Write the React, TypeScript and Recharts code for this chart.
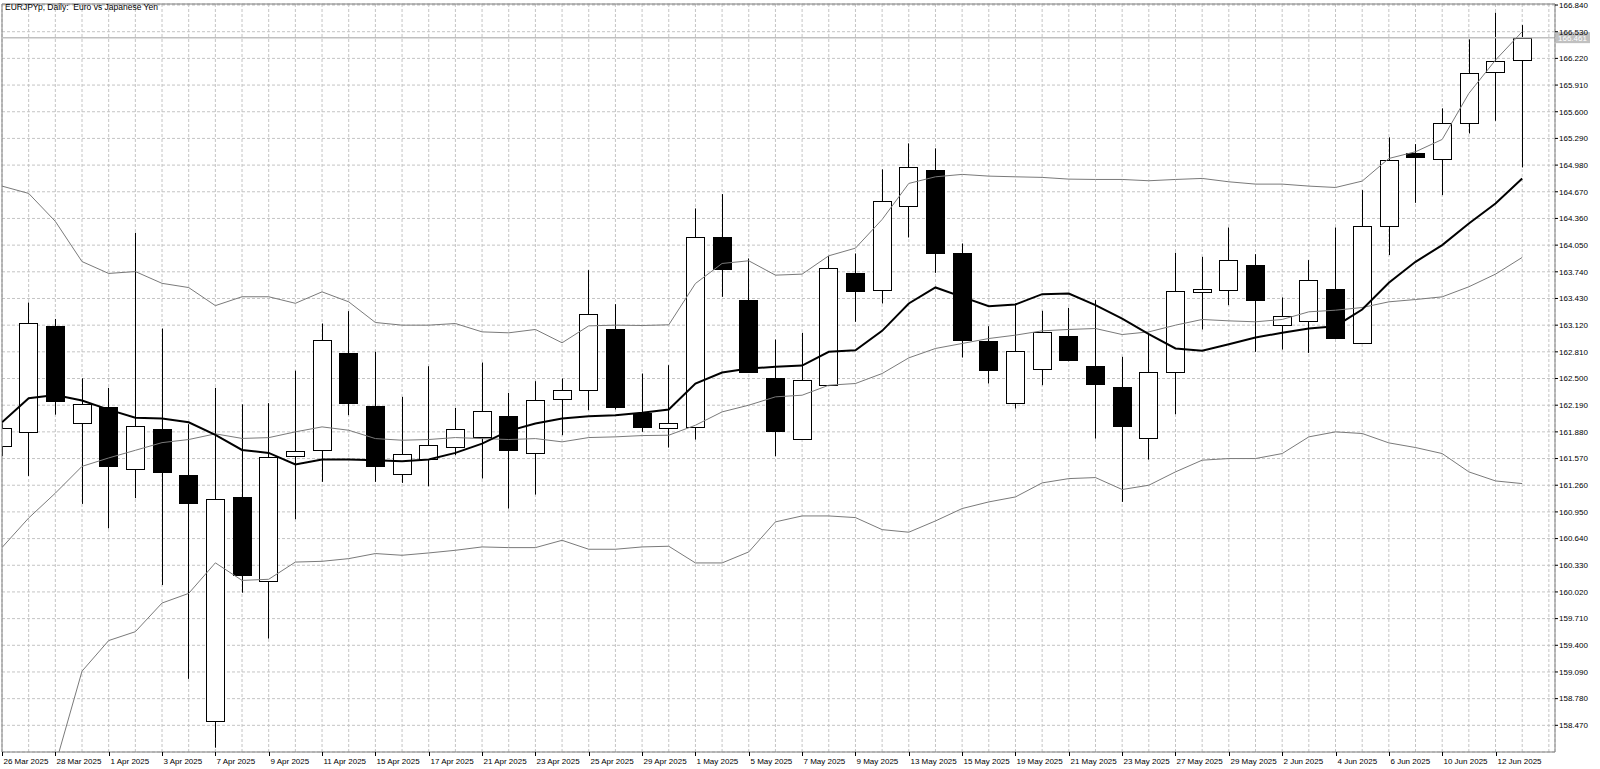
import React from "react";
import {
  ComposedChart,
  Bar,
  Line,
  XAxis,
  YAxis,
  CartesianGrid,
  ReferenceLine,
} from "recharts";

const FONT = "'Liberation Sans', Arial, sans-serif";

// one label every second trading day, starting with the first candle
const dateLabels = [
  "26 Mar 2025", "28 Mar 2025", "1 Apr 2025", "3 Apr 2025", "7 Apr 2025",
  "9 Apr 2025", "11 Apr 2025", "15 Apr 2025", "17 Apr 2025", "21 Apr 2025",
  "23 Apr 2025", "25 Apr 2025", "29 Apr 2025", "1 May 2025", "5 May 2025",
  "7 May 2025", "9 May 2025", "13 May 2025", "15 May 2025", "19 May 2025",
  "21 May 2025", "23 May 2025", "27 May 2025", "29 May 2025", "2 Jun 2025",
  "4 Jun 2025", "6 Jun 2025", "10 Jun 2025", "12 Jun 2025",
];

const opens = [
  161.711, 161.88, 163.112, 161.978, 162.169, 161.444, 161.915, 161.381, 158.521, 161.123,
  160.145, 161.604, 161.667, 162.791, 162.178, 161.388, 161.562, 161.706, 161.822, 162.062,
  161.64, 162.267, 162.372, 163.07, 162.101, 161.93, 161.938, 164.139, 163.411, 162.508,
  161.802, 162.43, 163.721, 163.527, 164.503, 164.922, 163.961, 162.938, 162.217, 162.605,
  162.992, 162.643, 162.403, 161.814, 162.57, 163.511, 163.527, 163.814, 163.12, 163.166,
  163.546, 162.918, 164.271, 165.116, 165.046, 165.472, 166.065, 166.201,
];
const highs = [
  161.98, 163.383, 163.192, 162.502, 162.391, 164.193, 163.081, 161.969, 162.391, 162.2,
  162.213, 162.591, 163.139, 163.283, 162.81, 162.287, 162.643, 162.159, 162.686, 162.333,
  162.469, 162.5, 163.759, 163.364, 162.558, 162.655, 164.476, 164.643, 163.895, 162.953,
  163.031, 163.922, 163.953, 164.93, 165.232, 165.174, 164.069, 163.108, 163.372, 163.287,
  163.321, 163.411, 162.752, 163.031, 163.961, 163.914, 164.255, 163.945, 163.442, 163.876,
  164.255, 164.689, 165.302, 165.224, 165.639, 166.441, 166.751, 166.607,
];
const lows = [
  161.6, 161.368, 162.08, 161.043, 160.759, 161.11, 160.1, 159.01, 158.21, 160.011,
  159.478, 160.865, 161.299, 162.074, 161.299, 161.287, 161.248, 161.609, 161.338, 160.989,
  161.151, 161.841, 162.132, 162.14, 161.88, 161.698, 161.791, 163.449, 162.566, 161.597,
  161.79, 162.42, 163.159, 163.372, 164.139, 163.728, 162.744, 162.442, 162.151, 162.422,
  162.7, 161.802, 161.066, 161.558, 162.085, 163.07, 163.352, 162.81, 162.837, 162.798,
  162.96, 162.91, 163.934, 164.542, 164.631, 165.348, 165.495, 164.953,
];
const closes = [
  161.924, 163.147, 162.236, 162.209, 161.479, 161.946, 161.412, 161.057, 161.101, 160.212,
  161.59, 161.657, 162.942, 162.217, 161.485, 161.628, 161.733, 161.911, 162.12, 161.674,
  162.256, 162.372, 163.244, 162.167, 161.938, 161.985, 164.139, 163.775, 162.574, 161.888,
  162.481, 163.779, 163.515, 164.562, 164.961, 163.961, 162.946, 162.597, 162.822, 163.035,
  162.713, 162.442, 161.946, 162.57, 163.515, 163.535, 163.883, 163.418, 163.225, 163.643,
  162.973, 164.271, 165.038, 165.069, 165.464, 166.046, 166.189, 166.461,
];

// Bollinger bands
const upperBand = [
  164.736, 164.651, 164.326, 163.859, 163.721, 163.743, 163.606, 163.557, 163.347, 163.45,
  163.45, 163.374, 163.507, 163.391, 163.151, 163.12, 163.12, 163.139, 163.042, 163.031,
  163.07, 162.915, 163.112, 163.12, 163.116, 163.124, 163.604, 163.837, 163.868, 163.701,
  163.713, 163.926, 164.015, 164.348, 164.767, 164.844, 164.872, 164.852, 164.844, 164.837,
  164.817, 164.813, 164.813, 164.798, 164.813, 164.825, 164.786, 164.759, 164.759, 164.736,
  164.72, 164.794, 165.057, 165.135, 165.278, 165.813, 166.201, 166.53,
];
const middleBand = [
  160.536, 160.879, 161.168, 161.479, 161.577, 161.666, 161.755, 161.791, 161.857, 161.804,
  161.813, 161.88, 161.938, 161.899, 161.802, 161.783, 161.791, 161.814, 161.802, 161.791,
  161.802, 161.764, 161.814, 161.822, 161.837, 161.841, 161.957, 162.112, 162.19, 162.287,
  162.306, 162.422, 162.442, 162.558, 162.74, 162.849, 162.907, 162.965, 163.004, 163.054,
  163.07, 163.081, 163.011, 163.042, 163.12, 163.186, 163.17, 163.159, 163.186, 163.275,
  163.294, 163.325, 163.391, 163.418, 163.449, 163.566, 163.713, 163.907,
];
const lowerBand = [
  156.336, 157.107, 158.01, 159.099, 159.455, 159.558, 159.891, 160.003, 160.358, 160.154,
  160.167, 160.367, 160.376, 160.407, 160.466, 160.446, 160.473, 160.504, 160.543, 160.535,
  160.535, 160.62, 160.516, 160.516, 160.543, 160.551, 160.357, 160.357, 160.485, 160.834,
  160.903, 160.903, 160.884, 160.744, 160.714, 160.845, 160.989, 161.066, 161.124, 161.287,
  161.337, 161.349, 161.21, 161.26, 161.415, 161.551, 161.57, 161.57, 161.628, 161.822,
  161.88, 161.861, 161.752, 161.698, 161.628, 161.415, 161.31, 161.279,
];
// faster moving average (thick line)
const fastMa = [
  161.991, 162.271, 162.307, 162.244, 162.138, 162.044, 162.035, 161.991, 161.844, 161.67,
  161.635, 161.502, 161.558, 161.558, 161.551, 161.539, 161.558, 161.636, 161.744, 161.892,
  161.977, 162.035, 162.062, 162.074, 162.101, 162.14, 162.442, 162.57, 162.616, 162.636,
  162.651, 162.81, 162.829, 163.054, 163.372, 163.558, 163.449, 163.341, 163.36, 163.48,
  163.488, 163.352, 163.197, 163.015, 162.849, 162.822, 162.899, 162.977, 163.031, 163.081,
  163.108, 163.302, 163.612, 163.856, 164.05, 164.302, 164.534, 164.825,
];

const priceTicks = [
  158.47, 158.78, 159.09, 159.4, 159.71, 160.02, 160.33, 160.64, 160.95, 161.26,
  161.57, 161.88, 162.19, 162.5, 162.81, 163.12, 163.43, 163.74, 164.05, 164.36,
  164.67, 164.98, 165.29, 165.6, 165.91, 166.22, 166.53, 166.84,
];
const lastPrice = 166.461;

const slots = Array.from({ length: 59 }, (_, i) => i);

const data = opens.map((open, i) => ({
  i,
  open,
  high: highs[i],
  low: lows[i],
  close: closes[i],
  range: [lows[i], highs[i]],
  upper: upperBand[i],
  middle: middleBand[i],
  lower: lowerBand[i],
  ma: fastMa[i],
}));

function Candle(props: any) {
  const { x, y, width, height, payload } = props;
  if (!payload || x == null) return <g />;
  const { open, close, high, low } = payload;
  const top = Math.min(y, y + height);
  const h = Math.abs(height);
  const span = high - low || 1;
  const py = (v: number) => top + ((high - v) / span) * h;
  const cx = Math.round(x + width / 2) + 0.5;
  const bodyTop = Math.round(py(Math.max(open, close))) + 0.5;
  const bodyBottom = Math.round(py(Math.min(open, close))) + 0.5;
  const up = close >= open;
  return (
    <g>
      <line x1={cx} x2={cx} y1={top} y2={top + h} stroke="#000" strokeWidth={1} />
      <rect
        x={cx - 9}
        y={bodyTop}
        width={18}
        height={Math.max(bodyBottom - bodyTop, 1)}
        fill={up ? "#fff" : "#000"}
        stroke="#000"
        strokeWidth={1}
      />
    </g>
  );
}

function renderDateTick(props: any) {
  const { x, y, payload } = props;
  const v = payload.value;
  if (v % 2 !== 0 || v / 2 >= dateLabels.length) return <g />;
  const tx = Math.round(x) + 0.5;
  return (
    <g>
      <line x1={tx} x2={tx} y1={y - 4} y2={y} stroke="#000" />
      <text x={tx + 1} y={y + 8} fontSize={8} fontFamily={FONT} fill="#000" textAnchor="start">
        {dateLabels[v / 2]}
      </text>
    </g>
  );
}

function renderPriceTag(props: any) {
  const vb = props.viewBox;
  if (!vb) return <g />;
  const x = vb.x + vb.width + 1;
  return (
    <g>
      <rect x={x} y={vb.y - 5.5} width={34} height={11} fill="#c0c0c0" />
      <text x={x + 2} y={vb.y + 3} fontSize={8} fontFamily={FONT} fill="#fff">
        {lastPrice.toFixed(3)}
      </text>
    </g>
  );
}

export default function App() {
  return (
    <div style={{ position: "absolute", left: 0, top: 0, width: 1600, height: 769, background: "#fff" }}>
      <ComposedChart
        width={1600}
        height={769}
        data={data}
        margin={{ top: 4, right: 0, bottom: 0, left: 2 }}
      >
        <CartesianGrid stroke="#c4c4c4" strokeDasharray="3 2" />
        <XAxis
          dataKey="i"
          type="number"
          domain={[0, 58.23]}
          allowDataOverflow
          ticks={slots}
          interval={0}
          height={17}
          tickLine={false}
          tickSize={4}
          tickMargin={0}
          axisLine={{ stroke: "#808080" }}
          tick={renderDateTick}
        />
        <YAxis
          orientation="right"
          type="number"
          domain={[158.16, 166.852]}
          allowDataOverflow
          ticks={priceTicks}
          interval={0}
          width={45}
          tickSize={3}
          tickMargin={1}
          tickLine={{ stroke: "#000" }}
          axisLine={{ stroke: "#808080" }}
          tick={{ fontSize: 8, fill: "#000", fontFamily: FONT }}
          tickFormatter={(v: number) => v.toFixed(3)}
        />
        <ReferenceLine x={0} stroke="#808080" />
        <ReferenceLine y={166.852} stroke="#808080" />
        <ReferenceLine y={lastPrice} stroke="#c0c0c0" strokeWidth={1.5} label={renderPriceTag} />
        <Bar
          dataKey="range"
          barSize={18}
          shape={(p: any) => <Candle {...p} />}
          isAnimationActive={false}
        />
        <Line dataKey="upper" type="linear" stroke="#7a7a7a" strokeWidth={1} dot={false} isAnimationActive={false} />
        <Line dataKey="middle" type="linear" stroke="#7a7a7a" strokeWidth={1} dot={false} isAnimationActive={false} />
        <Line dataKey="lower" type="linear" stroke="#7a7a7a" strokeWidth={1} dot={false} isAnimationActive={false} />
        <Line dataKey="ma" type="linear" stroke="#000" strokeWidth={2} dot={false} isAnimationActive={false} />
      </ComposedChart>
      <div
        style={{
          position: "absolute",
          left: 5,
          top: 2,
          fontFamily: FONT,
          fontSize: 8.5,
          color: "#000",
          whiteSpace: "pre",
        }}
      >
        {"EURJPYp, Daily:  Euro vs Japanese Yen"}
      </div>
    </div>
  );
}
